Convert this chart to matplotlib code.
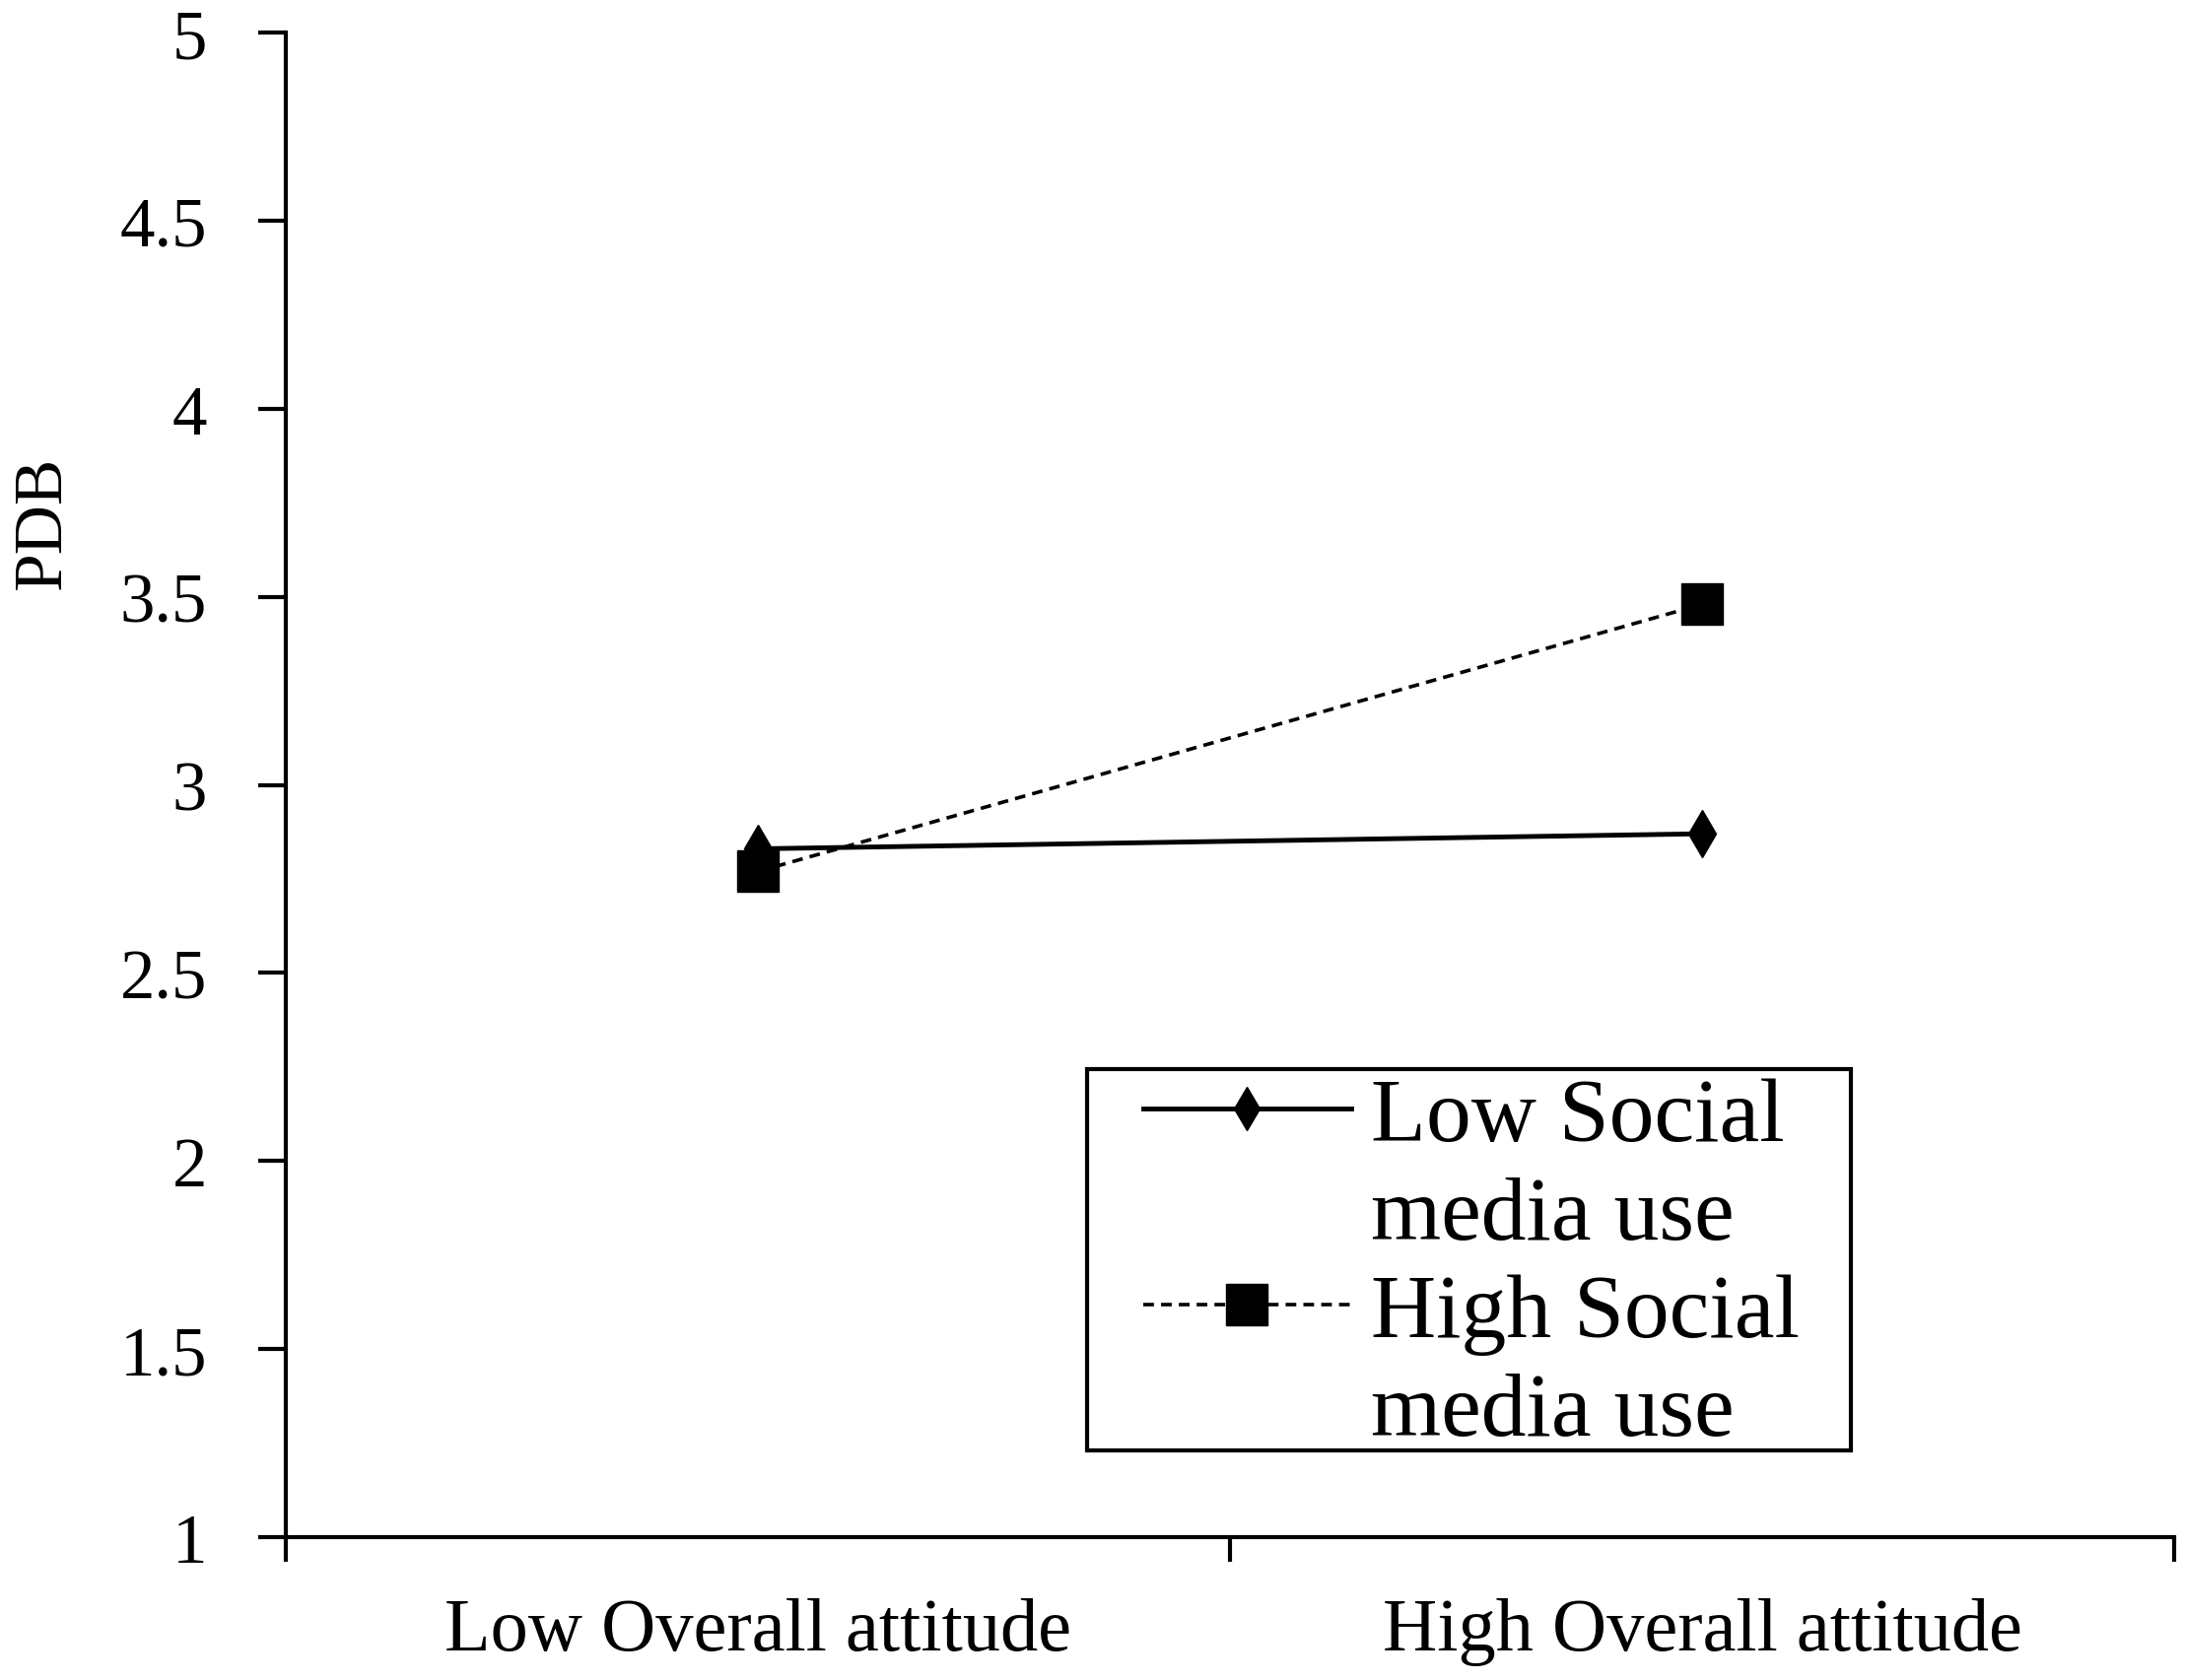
import matplotlib
matplotlib.use("Agg")
import matplotlib.pyplot as plt
from matplotlib.lines import Line2D
from matplotlib.patches import Rectangle

# values
categories = ["Low Overall attitude", "High Overall attitude"]
low_social = [2.83, 2.87]
high_social = [2.77, 3.48]
series_first = ["Low Social", "High Social"]
series_second = ["media use", "media use"]
y_ticks = [1, 1.5, 2, 2.5, 3, 3.5, 4, 4.5, 5]

plt.rcParams['font.family'] = ['Liberation Serif', 'DejaVu Serif']

fig = plt.figure(figsize=(22.17, 17.06), dpi=100)
ax = fig.add_axes([0.131, 0.085, 0.864, 0.895])

xpos = [0.5, 1.5]
l1, = ax.plot(xpos, low_social, color='black', lw=3.5, marker='d',
              markersize=24)
l2, = ax.plot(xpos, high_social, color='black', lw=2.6, ls=(0, (3, 2)),
              marker='s', markersize=30)

ax.set_xlim(0, 2)
ax.set_ylim(1, 5)
ax.set_yticks(y_ticks)
ax.set_yticklabels([f"{t:g}" for t in y_ticks])
ax.set_xticks([0, 1, 2])
ax.set_xticklabels([])
ax.set_xticks(xpos, minor=True)
ax.set_xticklabels(categories, minor=True)
ax.tick_params(axis='x', which='minor', length=0, pad=44, labelsize=55)
ax.tick_params(axis='x', which='major', length=18, width=3)
ax.tick_params(axis='y', length=20, width=3, pad=38, labelsize=51)

for side in ['top', 'right']:
    ax.spines[side].set_visible(False)
for side in ['left', 'bottom']:
    ax.spines[side].set_linewidth(3)

ax.set_ylabel("PDB", fontsize=50)
ax.yaxis.set_label_coords(-0.112, 0.675)

# legend: handle sits beside the first line of each two-line label
h1 = Line2D([], [], color='black', lw=3.5, marker='d', markersize=22)
h2 = Line2D([], [], color='black', lw=2.6, ls=(0, (3, 2)), marker='s',
            markersize=30)
blank = Line2D([], [], linestyle='none')
leg = ax.legend([h1, blank, h2, blank],
                [series_first[0], series_second[0], series_first[1], series_second[1]],
                loc='upper left', bbox_to_anchor=(0.454, 0.306),
                fontsize=66, frameon=False, handlelength=2.3,
                handletextpad=0.22, labelspacing=0.18, borderaxespad=0,
                borderpad=0)
ax.add_patch(Rectangle((0.4244, 0.0574), 0.4044, 0.2537, transform=ax.transAxes,
                       fill=False, edgecolor='black', lw=3, zorder=5))

fig.savefig("out.png", dpi=100, facecolor='white')
